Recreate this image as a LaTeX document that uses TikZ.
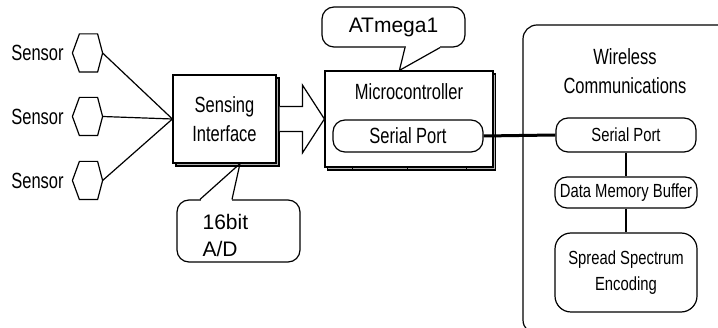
\documentclass[tikz,border=0pt]{standalone}
\usepackage{fontspec}
\setmainfont{Liberation Sans}
\newfontfamily\cond[FakeStretch=0.75]{Liberation Sans}
\newfontfamily\condb[FakeStretch=0.78]{Liberation Sans}
\usetikzlibrary{calc,shadows}
\begin{document}
\begin{tikzpicture}[x=1pt,y=-1pt, line width=1.2pt,
  big/.style={font=\cond\fontsize{22}{29}\selectfont},
  small/.style={font=\condb\fontsize{19}{26}\selectfont},
  call/.style={font=\fontsize{21}{27}\selectfont},
  hex/.style={minimum width=29pt, minimum height=37pt, inner sep=0pt},
  shbox/.style={draw, fill=white, inner sep=0pt, general shadow={shadow xshift=3pt, shadow yshift=-3pt, fill=gray!60, draw=black}},
  pill/.style={draw, fill=white, rounded corners=12pt, inner sep=0pt},
  callbox/.style={draw, fill=white, rounded corners=12pt, inner sep=0pt},
]
\useasboundingbox (0,0) rectangle (718,328);
\fill[white] (0,0) rectangle (718,328);

% sensors
\node[hex] (s1) at (87.5,53) {};
\node[hex] (s2) at (87.5,116.5) {};
\node[hex] (s3) at (87.5,180.5) {};
\foreach \s in {s1,s2,s3}
  \draw (\s.west) -- ([xshift=7pt]\s.north west) -- ([xshift=-5pt]\s.north east) -- (\s.east)
        -- ([xshift=-5pt]\s.south east) -- ([xshift=7pt]\s.south west) -- cycle;
\node[big] (l1) at (37.5,53) {Sensor};
\node[big] (l2) at (37.5,116.5) {Sensor};
\node[big] (l3) at (37.5,180.5) {Sensor};

% sensing interface
\node[shbox, big, minimum width=103pt, minimum height=88pt, align=center] (si) at (224.5,119) {Sensing\\Interface};
\foreach \s in {s1,s2,s3} \draw (\s.east) -- (si.west);

% microcontroller
\node[draw, fill=white, inner sep=0pt, minimum width=168pt, minimum height=96pt,
  general shadow={shadow xshift=2.5pt, shadow yshift=-3pt, fill=gray!60, draw=black}] (mc) at (409,119) {};
\foreach \x in {28,83,142} \draw ([xshift=\x pt]mc.south west) -- ++(0,3.5);
\node[big] (mct) at (409,92) {Microcontroller};
\node[pill, big, minimum width=150pt, minimum height=32pt] (msp) at (408,136) {Serial Port};

% hollow arrow
\draw[fill=white, line join=miter] ($(si.east)+(3,-12.5)$) -- ($(mc.west)+(-22,-12.5)$) -- ($(mc.west)+(-22,-34)$)
  -- (mc.west) -- ($(mc.west)+(-22,34)$) -- ($(mc.west)+(-22,12.5)$) -- ($(si.east)+(3,12.5)$);

% wireless communications
\draw[rounded corners=14pt] (722,25) -- (523,25) -- (523,334) -- (570,334);
\node[big, align=center] (wct) at (625,71) {Wireless\\Communications};
\node[pill, small, minimum width=140pt, minimum height=34pt] (wsp) at (626,135) {Serial Port};
\node[pill, small, minimum width=142pt, minimum height=31pt] (dmb) at (626,192.5) {Data Memory Buffer};
\node[pill, small, rounded corners=16pt, minimum width=142pt, minimum height=79pt, align=center] (sse) at (626,272.5) {Spread Spectrum\\Encoding};
\draw (wsp.south) -- (dmb.north);
\draw (dmb.south) -- (sse.north);

% serial link
\draw[line width=3pt] (msp.east) -- (wsp.west);

% ATmega1 callout
\node[callbox, call, minimum width=143pt, minimum height=40pt] (atm) at (393.5,27) {ATmega1};
\coordinate (atip) at ($(mc.north west)+(75,0)$);
\fill[white] ($(atm.south)+(12,-2)$) rectangle ($(atm.south)+(46,1.5)$);
\draw[line join=round] ($(atm.south)+(11.5,0)$) -- (atip) -- ($(atm.south)+(46.5,0)$);

% 16bit A/D callout
\node[callbox, minimum width=123pt, minimum height=62pt] (ad) at (238.5,231) {};
\node[call, align=left, anchor=west, inner sep=0pt] (adt) at (202,235) {16bit\\A/D};
\coordinate (adtip) at ($(si.south)+(15.5,0)$);
\fill[white] ($(ad.north)+(-38,-1.5)$) rectangle ($(ad.north)+(-7,2)$);
\draw[line join=round] ($(ad.north)+(-38.5,0)$) -- (adtip) -- ($(ad.north)+(-6.5,0)$);
\end{tikzpicture}
\end{document}
